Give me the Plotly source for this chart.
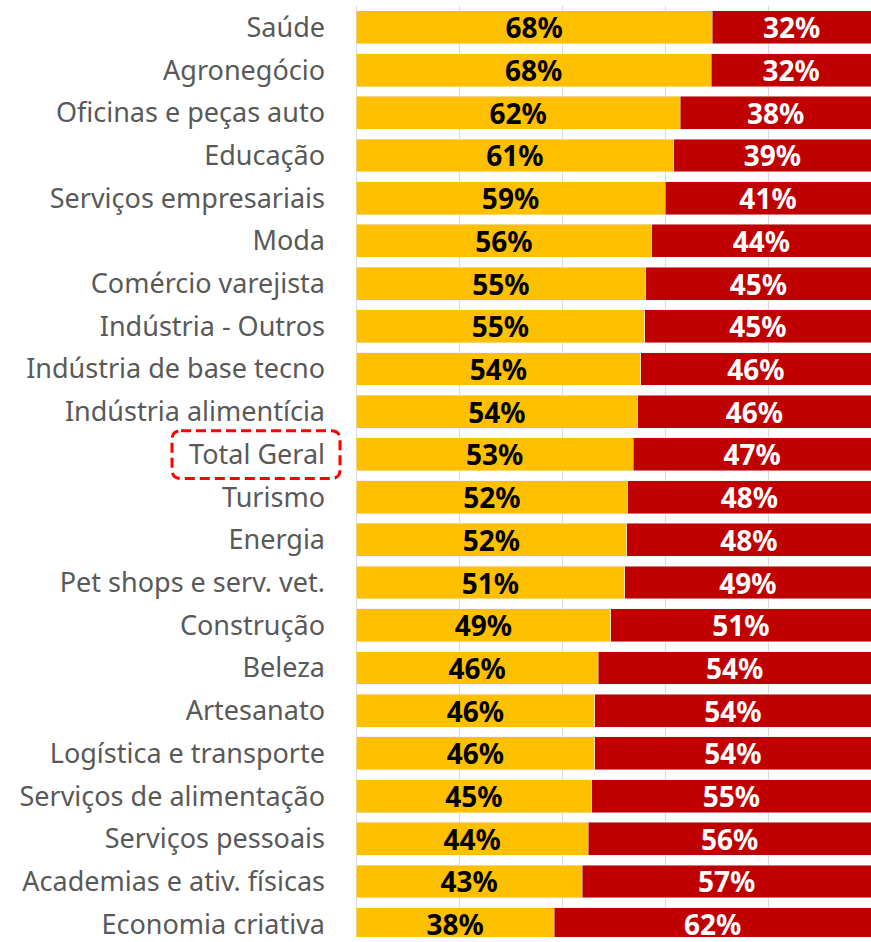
import plotly.graph_objects as go

categories = [
    "Saúde", "Agronegócio", "Oficinas e peças auto", "Educação",
    "Serviços empresariais", "Moda", "Comércio varejista", "Indústria - Outros",
    "Indústria de base tecno", "Indústria alimentícia", "Total Geral", "Turismo",
    "Energia", "Pet shops e serv. vet.", "Construção", "Beleza", "Artesanato",
    "Logística e transporte", "Serviços de alimentação", "Serviços pessoais",
    "Academias e ativ. físicas", "Economia criativa",
]
# bar lengths
yellow_values = [0.692, 0.690, 0.630, 0.617, 0.600, 0.574, 0.563, 0.561, 0.553, 0.547,
                 0.538, 0.528, 0.526, 0.522, 0.495, 0.470, 0.464, 0.464, 0.458, 0.451,
                 0.439, 0.385]
red_values = [0.308, 0.310, 0.370, 0.383, 0.400, 0.426, 0.437, 0.439, 0.447, 0.453,
              0.462, 0.472, 0.474, 0.478, 0.505, 0.530, 0.536, 0.536, 0.542, 0.549,
              0.561, 0.615]
yellow_labels = ["68%", "68%", "62%", "61%", "59%", "56%", "55%", "55%", "54%", "54%",
                 "53%", "52%", "52%", "51%", "49%", "46%", "46%", "46%", "45%", "44%",
                 "43%", "38%"]
red_labels = ["32%", "32%", "38%", "39%", "41%", "44%", "45%", "45%", "46%", "46%",
              "47%", "48%", "48%", "49%", "51%", "54%", "54%", "54%", "55%", "56%",
              "57%", "62%"]

W, H = 871, 942
L, T = 356, 6
pw, ph = W - L, H - T

fig = go.Figure()
fig.add_trace(go.Bar(
    y=categories, x=yellow_values, orientation="h", marker_color="#FFC000",
    text=yellow_labels, textposition="inside", insidetextanchor="middle",
    textangle=0, constraintext="none",
    textfont=dict(family="Noto Sans", size=28, color="black", weight="bold"),
    width=0.77, hoverinfo="skip",
))
fig.add_trace(go.Bar(
    y=categories, x=red_values, orientation="h", marker_color="#C00000",
    text=red_labels, textposition="inside", insidetextanchor="middle",
    textangle=0, constraintext="none",
    textfont=dict(family="Noto Sans", size=28, color="white", weight="bold"),
    width=0.77, hoverinfo="skip",
))

# dashed rounded box around "Total Geral" (pixel -> paper)
def px_x(v):
    return (v - L) / pw

def px_y(v):
    return 1 - (v - T) / ph

x0, x1, y0, y1 = px_x(172), px_x(340), px_y(481), px_y(433)
rx, ry = 9 / pw, 9 / ph
path = (f"M {x0+rx},{y1} L {x1-rx},{y1} Q {x1},{y1} {x1},{y1-ry} "
        f"L {x1},{y0+ry} Q {x1},{y0} {x1-rx},{y0} L {x0+rx},{y0} "
        f"Q {x0},{y0} {x0},{y0+ry} L {x0},{y1-ry} Q {x0},{y1} {x0+rx},{y1} Z")
fig.add_shape(type="path", path=path, xref="paper", yref="paper",
              line=dict(color="#FF0000", width=3, dash="10px,5px"))

fig.update_layout(
    width=W, height=H, barmode="stack", showlegend=False,
    margin=dict(l=L, r=0, t=T, b=0, pad=0),
    plot_bgcolor="white", paper_bgcolor="white",
    xaxis=dict(range=[0, 1.0], dtick=0.2, showticklabels=False, showgrid=True,
               gridcolor="#D9D9D9", gridwidth=1, zeroline=True,
               zerolinecolor="#D9D9D9", zerolinewidth=1, fixedrange=True),
    yaxis=dict(categoryorder="array", categoryarray=categories,
               range=[len(categories) - 0.7, -0.5],
               tickfont=dict(family="Noto Sans", size=27, color="#595959"),
               ticks="", ticklabelstandoff=30, showgrid=False),
)

fig.write_html("out.html", config={"displayModeBar": False},
               post_script="document.body.style.margin='0';document.body.style.overflow='hidden';")
